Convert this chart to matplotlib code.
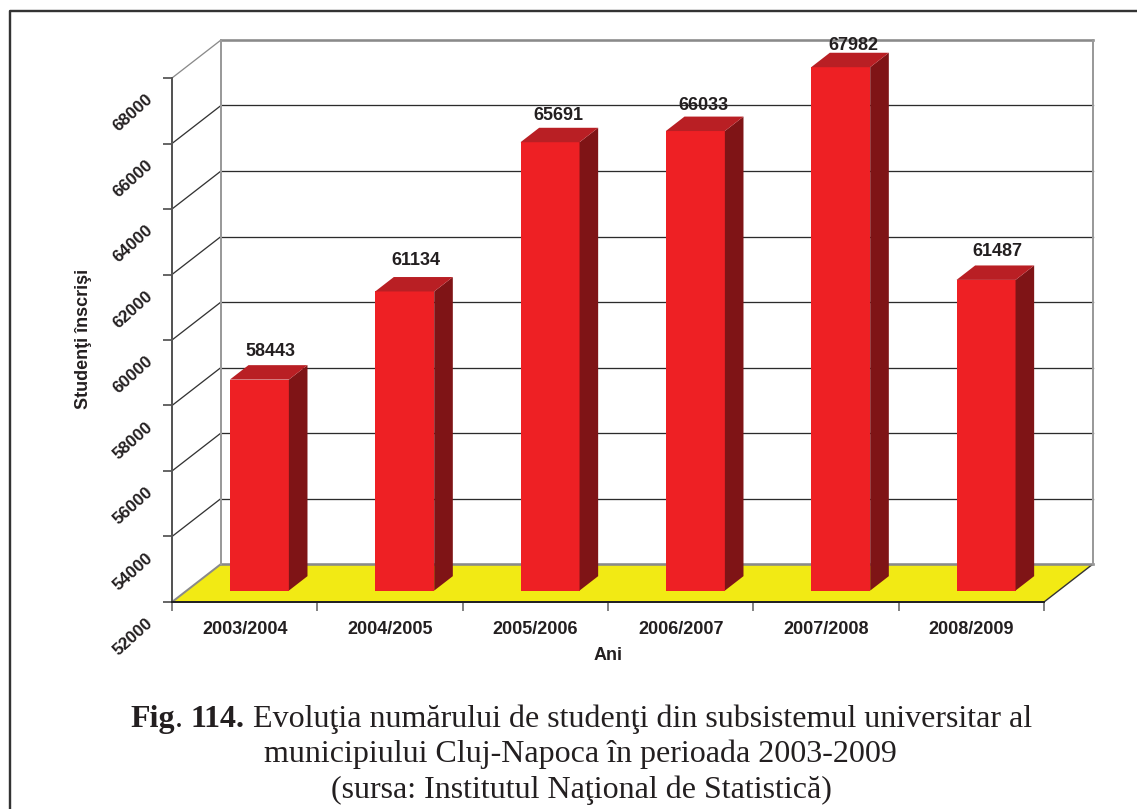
import matplotlib
matplotlib.use("Agg")
import matplotlib.pyplot as plt
from matplotlib.lines import Line2D
from matplotlib.transforms import ScaledTranslation

categories = ["2003/2004", "2004/2005", "2005/2006", "2006/2007", "2007/2008", "2008/2009"]
values = [58443, 61134, 65691, 66033, 67982, 61487]
y_ticks = [52000, 54000, 56000, 58000, 60000, 62000, 64000, 66000, 68000]
x_label = "Ani"
y_label = "Studenţi înscrişi"
caption_bold_1 = "Fig"
caption_sep = ". "
caption_bold_2 = "114."
caption_rest = " Evoluţia numărului de studenţi din subsistemul universitar al"
caption_line_2 = "municipiului Cluj-Napoca în perioada 2003-2009"
caption_line_3 = "(sursa: Institutul Naţional de Statistică)"

W, H = 1137, 809
L, R, T, B = 172, 1044, 78, 602
DEPTH_X_PX, DEPTH_Y_PX = 49, 38
TEXT = "#231f20"
px = 72 / 100

plt.rcParams["font.family"] = ["Liberation Sans", "DejaVu Sans"]
fig = plt.figure(figsize=(W / 100, H / 100), dpi=100, facecolor="white")
ax = fig.add_axes([L / W, 1 - B / H, (R - L) / W, (B - T) / H])
ax.patch.set_visible(False)
ax.set_xlim(0, len(categories))
ax.set_ylim(y_ticks[0], y_ticks[-1])

DX = DEPTH_X_PX / ((R - L) / len(categories))
DY = DEPTH_Y_PX / ((B - T) / (y_ticks[-1] - y_ticks[0]))
n = len(categories)
y0, y1 = y_ticks[0], y_ticks[-1]

# floor
ax.fill([0, n, n + DX, DX], [y0, y0, y0 + DY, y0 + DY], color="#f2ea14", lw=0, zorder=1, clip_on=False)
# floor edges
ax.plot([0, DX], [y0, y0 + DY], color="#8a8a8a", lw=2 * px, zorder=2, clip_on=False)
ax.plot([n, n + DX], [y0, y0 + DY], color="#333333", lw=1.4 * px, zorder=2, clip_on=False)
# walls and grid
for v in y_ticks:
    first_last = v in (y0, y1)
    col = "#8a8a8a" if first_last else "#2b2b2b"
    lw = 2.6 * px if first_last else 1.3 * px
    ax.plot([DX, n + DX], [v + DY, v + DY], color=col, lw=lw, zorder=2, clip_on=False)
    if v != y0:
        ax.plot([0, DX], [v, v + DY], color=col if v == y1 else "#333333", lw=1.3 * px, zorder=2, clip_on=False)
ax.plot([DX, DX], [y0 + DY, y1 + DY], color="#9a9a9a", lw=2 * px, zorder=2, clip_on=False)
ax.plot([n + DX, n + DX], [y0 + DY, y1 + DY], color="#9a9a9a", lw=2 * px, zorder=2, clip_on=False)

# bars
front_d, back_d = 0.30, 0.68
bw = 0.406
centers = [i + 0.5 for i in range(n)]
xf = [c + front_d * DX for c in centers]
base_f = y0 + front_d * DY
base_b = y0 + back_d * DY
tops_f = [v + front_d * DY for v in values]
tops_b = [v + back_d * DY for v in values]
sh = (back_d - front_d) * DX
ax.bar(xf, [t - base_f for t in tops_f], width=bw, bottom=base_f, color="#ee2024", lw=0, zorder=5, clip_on=False)
for x, tf, tb in zip(xf, tops_f, tops_b):
    xr = x + bw / 2
    xl = x - bw / 2
    ax.fill([xr, xr + sh, xr + sh, xr], [base_f, base_b, tb, tf], color="#7f1416", lw=0, zorder=5, clip_on=False)
    ax.fill([xl, xr, xr + sh, xl + sh], [tf, tf, tb, tb], color="#b91f24", lw=0, zorder=5, clip_on=False)

# value labels
label_offsets = [(2, 14), (2, 17), (-1, 12), (-1, 11), (3, 7), (2, 14)]
for x, tb, v, off in zip(xf, tops_b, values, label_offsets):
    ax.annotate(str(v), xy=(x + sh / 2, tb), xytext=(off[0] * px, off[1] * px), textcoords="offset points",
                ha="center", va="center", fontsize=18 * px, fontweight="bold", color=TEXT, zorder=8,
                annotation_clip=False)

# axes
for s in ("top", "right"):
    ax.spines[s].set_visible(False)
ax.spines["left"].set_color("#555555")
ax.spines["left"].set_linewidth(2 * px)
ax.spines["bottom"].set_color("#222222")
ax.spines["bottom"].set_linewidth(2 * px)
ax.spines["left"].set_zorder(3)
ax.spines["bottom"].set_zorder(3)

ax.set_xticks(range(n + 1))
ax.set_xticklabels([])
ax.set_xticks(centers, minor=True)
ax.set_xticklabels(categories, minor=True, fontsize=18 * px, fontweight="bold", color=TEXT)
ax.tick_params(axis="x", which="major", length=9 * px, width=1.6 * px, color="#666666")
ax.tick_params(axis="x", which="minor", length=0, pad=19 * px)

ax.set_yticks(y_ticks)
ax.set_yticklabels([str(t) for t in y_ticks], fontsize=17 * px, fontweight="bold", color=TEXT)
ax.tick_params(axis="y", length=9 * px, width=1.6 * px, color="#444444", pad=30 * px)
shift = ScaledTranslation(0, -35 * px / 72, fig.dpi_scale_trans)
for lab in ax.get_yticklabels():
    lab.set_rotation(42)
    lab.set_rotation_mode("anchor")
    lab.set_ha("center")
    lab.set_va("center")
    lab.set_transform(lab.get_transform() + shift)

ax.set_xlabel(x_label, fontsize=18 * px, fontweight="bold", color=TEXT)
ax.xaxis.set_label_coords((608 - L) / (R - L), -(656 - B) / (B - T))
ax.xaxis.label.set_va("center")
ax.set_ylabel(y_label, fontsize=18 * px, fontweight="bold", color=TEXT)
ax.yaxis.set_label_coords((83 - L) / (R - L), (B - 339) / (B - T))
ax.yaxis.label.set_va("center")

# page frame
fig.add_artist(Line2D([10 / W, 10 / W, 1], [0, 1 - 11 / H, 1 - 11 / H], color="#333333", lw=2.4 * px))

# caption
SERIF = ["Liberation Serif", "DejaVu Serif"]
CAP = 32 * px
fig.canvas.draw()
rend = fig.canvas.get_renderer()
x = 130 / W
base = 1 - 727 / H
for s, w in [(caption_bold_1, "bold"), (caption_sep, "normal"), (caption_bold_2, "bold"), (caption_rest, "normal")]:
    t = fig.text(x, base, s.replace(" ", "\u00a0"), fontsize=CAP, fontweight=w, family=SERIF, color=TEXT, ha="left", va="baseline")
    x = fig.transFigure.inverted().transform((t.get_window_extent(rend).x1, 0))[0]
fig.text(580 / W, 1 - 762 / H, caption_line_2, fontsize=CAP, family=SERIF, color=TEXT, ha="center", va="baseline")
fig.text(581 / W, 1 - 798 / H, caption_line_3, fontsize=CAP, family=SERIF, color=TEXT, ha="center", va="baseline")

fig.savefig("out.png", dpi=100)
